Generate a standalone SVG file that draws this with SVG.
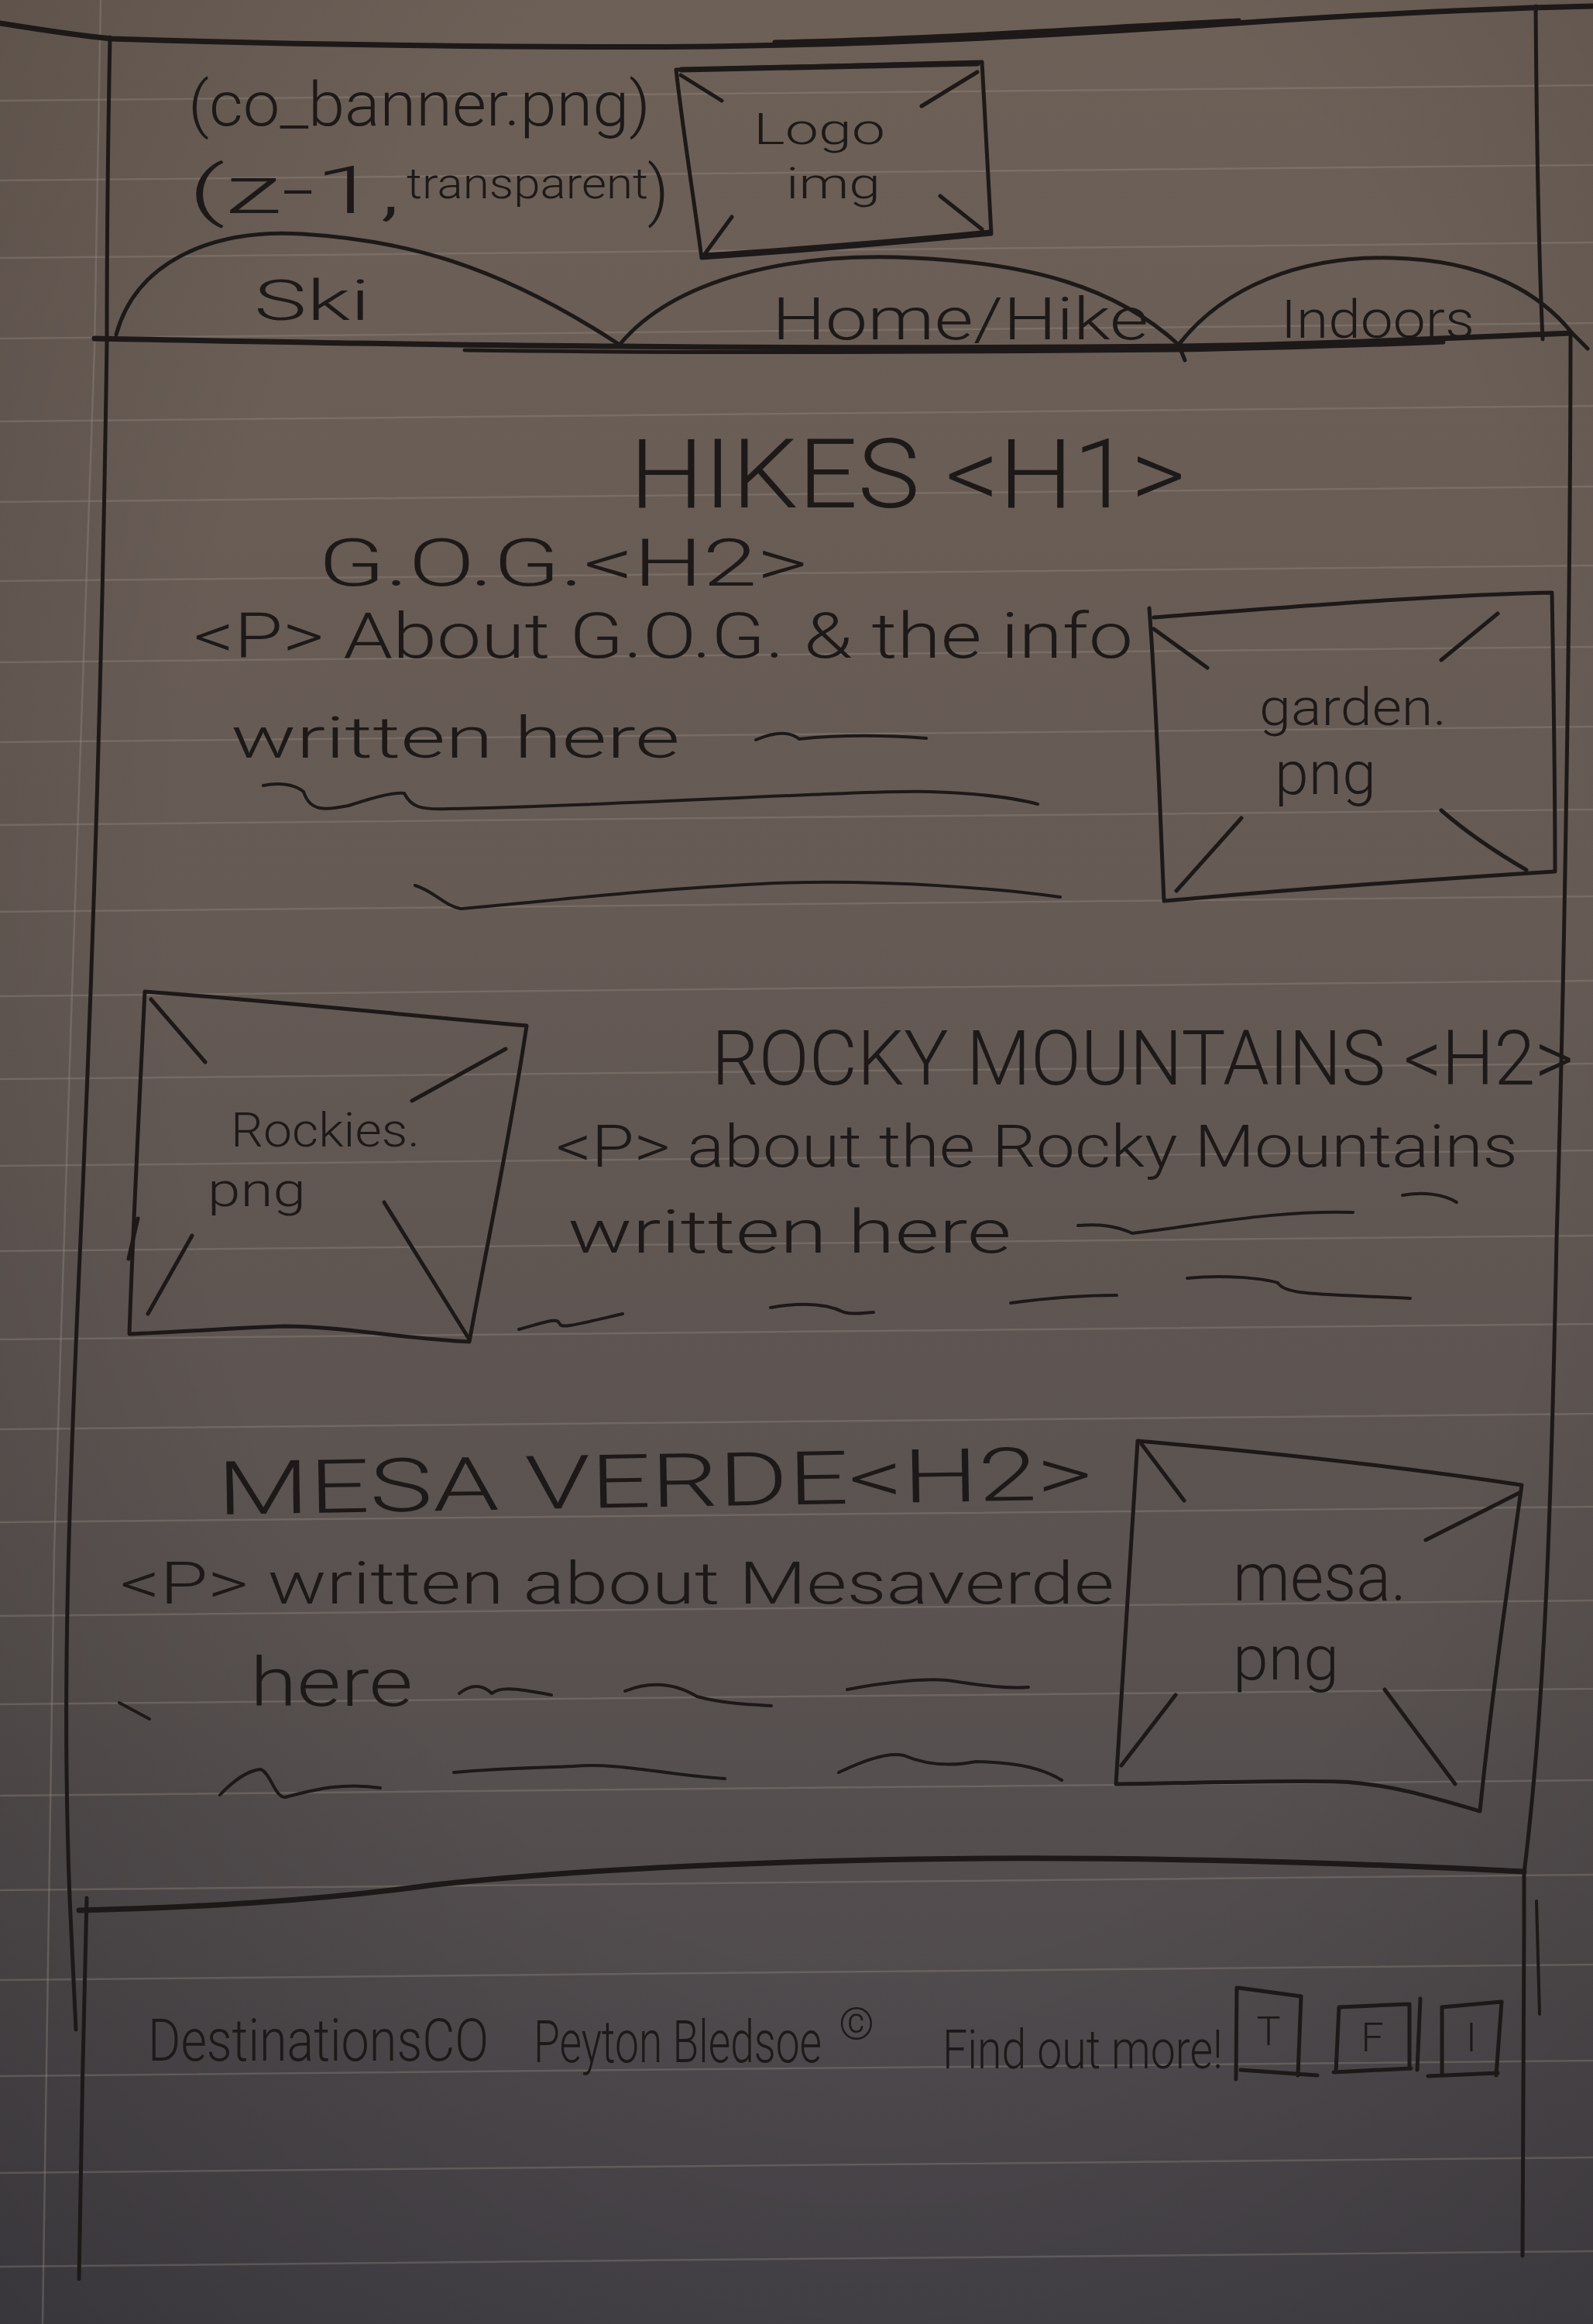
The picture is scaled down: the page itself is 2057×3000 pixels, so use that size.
<svg xmlns="http://www.w3.org/2000/svg" width="2057" height="3000" viewBox="0 0 2057 3000">
<defs>
  <linearGradient id="paperShade" x1="0" y1="0" x2="0" y2="1">
    <stop offset="0" stop-color="#6d6057"/>
    <stop offset="0.4" stop-color="#655a54"/>
    <stop offset="0.7" stop-color="#595250"/>
    <stop offset="1" stop-color="#47444a"/>
  </linearGradient>
  <radialGradient id="vignette" cx="0.55" cy="0.4" r="0.8">
    <stop offset="0.55" stop-color="#000" stop-opacity="0"/>
    <stop offset="1" stop-color="#000" stop-opacity="0.2"/>
  </radialGradient>
</defs>
<style>
  .rule{fill:none;stroke:#9a918a;stroke-opacity:.32;stroke-width:2.5}
  .margin{fill:none;stroke:#978e88;stroke-opacity:.35;stroke-width:2.5}
  .ink{fill:none;stroke:#1d1918;stroke-width:5;stroke-linecap:round;stroke-linejoin:round}
  .bold{stroke-width:7}
  .fine{stroke-width:4}
  .hand{fill:#1d1918;font-family:Roboto,"Open Sans",Lato,"Liberation Sans",sans-serif;font-weight:300}
</style>

<!-- lined notebook paper -->
<g id="paper">
  <rect x="0" y="0" width="2057" height="3000" fill="url(#paperShade)"/>
  <rect x="0" y="0" width="2057" height="3000" fill="url(#vignette)"/>
  <path class="rule" d="M0,130 L2057,110 M0,233 L2057,213 M0,333 L2057,313 M0,437 L2057,417 M0,544 L2057,524 M0,648 L2057,628 M0,750 L2057,730 M0,855 L2057,835 M0,958 L2057,938 M0,1065 L2057,1045 M0,1177 L2057,1157 M0,1286 L2057,1266 M0,1393 L2057,1373 M0,1505 L2057,1485 M0,1615 L2057,1595 M0,1729 L2057,1709 M0,1845 L2057,1825 M0,1965 L2057,1945 M0,2086 L2057,2066 M0,2200 L2057,2180 M0,2318 L2057,2298 M0,2440 L2057,2420 M0,2556 L2057,2536 M0,2680 L2057,2660 M0,2805 L2057,2785 M0,2926 L2057,2906"/>
  <path class="margin" d="M130,0 C127,150 124,300 122,450 C112,800 100,1050 94,1250 C85,1550 76,1800 70,2000 C63,2400 58,2700 55,3000"/>
</g>

<!-- page frame: header, content and footer outlines -->
<g id="frame">
  <path class="ink bold" d="M0,30 C50,38 100,46 144,50 C400,58 700,62 918,60 C1200,56 1450,40 1640,27 C1800,17 1950,10 2057,8"/>
  <path class="ink" d="M1000,54 C1200,50 1400,36 1600,26"/>
  <!-- left edge of header and content -->
  <path class="ink" d="M142,48 C140,150 138,300 138,440 C133,800 122,1200 104,1600 C88,1950 80,2200 90,2450 L98,2620"/>
  <!-- right edge of header -->
  <path class="ink" d="M1983,8 C1984,150 1987,330 1992,438"/>
  <!-- right edge of content -->
  <path class="ink" d="M2028,428 C2028,700 2022,1200 2010,1600 C2003,1950 1995,2200 1968,2418"/>
  <path class="ink bold" d="M122,437 C300,440 500,445 800,447 C1100,450 1300,449 1522,447 C1700,445 1850,437 2028,430"/>
  <path class="ink" d="M600,452 C900,456 1200,455 1522,452 C1650,450 1760,446 1864,442"/>
  <path class="ink bold" d="M102,2466 C250,2462 400,2455 561,2433 C700,2418 900,2405 1181,2400 C1400,2396 1700,2402 1968,2416"/>
  <path class="ink" d="M112,2450 C108,2600 104,2800 102,2942"/>
  <path class="ink" d="M1968,2414 C1968,2600 1968,2800 1966,2912"/>
  <path class="ink fine" d="M1984,2454 L1988,2600"/>
</g>

<!-- header -->
<g id="banner-note">
  <text class="hand" x="243" y="162" font-size="80" textLength="597" lengthAdjust="spacingAndGlyphs">(co_banner.png)</text>
  <text class="hand" x="243" y="275" font-size="85"><tspan textLength="275" lengthAdjust="spacingAndGlyphs">(z-1,</tspan> <tspan x="525" y="256" font-size="56" textLength="312" lengthAdjust="spacingAndGlyphs">transparent</tspan><tspan x="836" y="275">)</tspan></text>
</g>

<g id="logo">
  <path class="ink" d="M873,90 C1000,86 1150,84 1268,80 C1272,150 1276,230 1280,302 C1160,314 1020,325 906,333 C895,250 882,170 873,90 Z"/>
  <path class="ink bold" d="M880,90 C1000,87 1150,85 1262,82 M910,330 C1030,322 1160,312 1278,300"/>
  <path class="ink" d="M879,97 L932,130 M1262,93 L1190,137 M945,280 L910,328 M1214,253 L1268,296"/>
  <text class="hand" x="973" y="186" font-size="56" textLength="170" lengthAdjust="spacingAndGlyphs">Logo</text>
  <text class="hand" x="1015" y="256" font-size="56" textLength="122" lengthAdjust="spacingAndGlyphs">img</text>
</g>

<g id="tab-ski">
  <path class="ink" d="M150,432 C175,340 270,295 390,302 C520,310 640,340 800,445"/>
  <text class="hand" x="328" y="413" font-size="72" textLength="150" lengthAdjust="spacingAndGlyphs">Ski</text>
</g>
<g id="tab-home-hike">
  <path class="ink" d="M800,445 C870,360 1020,325 1180,333 C1330,340 1440,370 1522,445 L1530,465"/>
  <text class="hand" x="997" y="438" font-size="76" textLength="486" lengthAdjust="spacingAndGlyphs">Home/Hike</text>
</g>
<g id="tab-indoors">
  <path class="ink" d="M1522,445 C1580,370 1680,330 1798,333 C1920,336 1990,380 2030,430 L2050,450"/>
  <text class="hand" x="1654" y="436" font-size="68" textLength="250" lengthAdjust="spacingAndGlyphs">Indoors</text>
</g>

<!-- page heading -->
<g id="heading">
  <text class="hand" x="813" y="655" font-size="125" textLength="718" lengthAdjust="spacingAndGlyphs">HIKES &lt;H1&gt;</text>
</g>

<!-- G.O.G. section -->
<g id="section-gog">
  <text class="hand" x="411" y="756" font-size="86" textLength="632" lengthAdjust="spacingAndGlyphs">G.O.G.&lt;H2&gt;</text>
  <text class="hand" x="250" y="849" font-size="82" textLength="1213" lengthAdjust="spacingAndGlyphs">&lt;P&gt; About G.O.G. &amp; the info</text>
  <text class="hand" x="298" y="978" font-size="74" textLength="580" lengthAdjust="spacingAndGlyphs">written here</text>
  <path class="ink fine" d="M976,955 C1000,945 1020,944 1032,954 C1070,950 1130,948 1196,953"/>
  <path class="ink fine" d="M340,1014 C360,1010 380,1012 392,1022 C400,1048 420,1046 450,1040 C480,1030 510,1022 522,1024 C530,1040 540,1046 580,1044 C800,1040 1100,1020 1200,1022 C1260,1024 1310,1030 1340,1038"/>
  <path class="ink fine" d="M536,1143 C560,1150 575,1170 595,1173 C700,1165 800,1150 1000,1140 C1150,1135 1300,1148 1369,1158"/>
</g>
<g id="image-garden">
  <path class="ink" d="M1490,797 C1650,785 1850,768 2004,765 C2006,880 2008,1000 2008,1125 C1850,1135 1650,1150 1503,1163 C1498,1050 1493,900 1484,785"/>
  <path class="ink" d="M1490,812 L1559,862 M1934,792 L1861,852 M1603,1056 L1519,1150 M1861,1046 C1900,1080 1940,1105 1971,1123"/>
  <text class="hand" x="1626" y="936" font-size="66" textLength="242" lengthAdjust="spacingAndGlyphs">garden.</text>
  <text class="hand" x="1646" y="1025" font-size="78" textLength="131" lengthAdjust="spacingAndGlyphs">png</text>
</g>

<!-- Rocky Mountains section -->
<g id="image-rockies">
  <path class="ink" d="M187,1280 C350,1292 520,1310 680,1324 C660,1460 630,1600 606,1732 C520,1728 440,1712 368,1712 C300,1714 230,1720 167,1722 C172,1580 180,1420 187,1280 Z"/>
  <path class="ink" d="M178,1573 L166,1625"/>
  <path class="ink" d="M195,1290 L265,1371 M653,1354 L532,1421 M248,1595 L191,1696 M496,1552 L606,1729"/>
  <text class="hand" x="298" y="1480" font-size="62" textLength="244" lengthAdjust="spacingAndGlyphs">Rockies.</text>
  <text class="hand" x="268" y="1557" font-size="62" textLength="127" lengthAdjust="spacingAndGlyphs">png</text>
</g>
<g id="section-rockies">
  <text class="hand" x="919" y="1400" font-size="98" textLength="1113" lengthAdjust="spacingAndGlyphs">ROCKY MOUNTAINS &lt;H2&gt;</text>
  <text class="hand" x="718" y="1506" font-size="76" textLength="1242" lengthAdjust="spacingAndGlyphs">&lt;P&gt; about the Rocky Mountains</text>
  <text class="hand" x="733" y="1617" font-size="78" textLength="573" lengthAdjust="spacingAndGlyphs">written here</text>
  <path class="ink fine" d="M1811,1543 C1840,1538 1865,1542 1881,1552"/>
  <path class="ink fine" d="M1392,1582 C1420,1580 1440,1582 1462,1592 C1560,1580 1650,1562 1747,1565"/>
  <path class="ink fine" d="M670,1716 C700,1708 720,1700 722,1708 C725,1715 735,1712 804,1696"/>
  <path class="ink fine" d="M995,1688 C1040,1680 1070,1684 1090,1694 C1105,1698 1118,1694 1128,1694"/>
  <path class="ink fine" d="M1305,1682 C1350,1676 1400,1672 1442,1672"/>
  <path class="ink fine" d="M1533,1650 C1580,1645 1630,1650 1650,1656 C1660,1672 1700,1670 1821,1676"/>
</g>

<!-- Mesa Verde section -->
<g id="section-mesa">
  <text class="hand" x="281" y="1955" font-size="96" textLength="1130" lengthAdjust="spacingAndGlyphs" transform="rotate(-1 281 1955)">MESA VERDE&lt;H2&gt;</text>
  <text class="hand" x="155" y="2070" font-size="76" textLength="1284" lengthAdjust="spacingAndGlyphs">&lt;P&gt; written about Mesaverde</text>
  <text class="hand" x="323" y="2202" font-size="88" textLength="210" lengthAdjust="spacingAndGlyphs">here</text>
  <path class="ink fine" d="M154,2198 L193,2219"/>
  <path class="ink fine" d="M593,2186 C610,2172 625,2176 635,2186 C645,2178 660,2178 712,2188"/>
  <path class="ink fine" d="M807,2183 C840,2170 870,2172 900,2190 C930,2198 960,2200 996,2202"/>
  <path class="ink fine" d="M1094,2181 C1140,2172 1200,2165 1230,2170 C1270,2176 1300,2180 1328,2178"/>
  <path class="ink fine" d="M284,2317 C300,2300 320,2285 337,2284 C350,2290 355,2320 368,2320 C400,2312 440,2300 491,2308"/>
  <path class="ink fine" d="M586,2288 C650,2282 700,2282 740,2280 C800,2275 850,2290 936,2296"/>
  <path class="ink fine" d="M1083,2288 C1120,2270 1150,2262 1167,2266 C1200,2280 1230,2280 1260,2274 C1320,2275 1350,2285 1371,2298"/>
</g>
<g id="image-mesa">
  <path class="ink" d="M1469,1860 C1640,1875 1820,1895 1965,1917 C1945,2060 1925,2200 1911,2338 C1850,2320 1790,2302 1729,2300 C1640,2298 1540,2302 1441,2303 C1450,2150 1460,2000 1469,1860 Z"/>
  <path class="ink" d="M1474,1864 L1529,1937 M1962,1927 L1841,1988 M1518,2188 L1448,2279 M1788,2181 L1879,2303"/>
  <text class="hand" x="1592" y="2066" font-size="88" textLength="224" lengthAdjust="spacingAndGlyphs">mesa.</text>
  <text class="hand" x="1592" y="2168" font-size="80" textLength="137" lengthAdjust="spacingAndGlyphs">png</text>
</g>

<!-- footer: narrow, tall handwriting is a smaller font stretched vertically -->
<g id="footer">
  <text class="hand" font-size="54" textLength="440" lengthAdjust="spacingAndGlyphs" transform="translate(191 2660) scale(1 1.4)">DestinationsCO</text>
  <text class="hand" font-size="54" textLength="372" lengthAdjust="spacingAndGlyphs" transform="translate(689 2662) scale(1 1.4)">Peyton Bledsoe</text>
  <text class="hand" x="1106" y="2632" font-size="58" text-anchor="middle">©</text>
  <text class="hand" font-size="54" textLength="362" lengthAdjust="spacingAndGlyphs" transform="translate(1217 2670) scale(1 1.3)">Find out more!</text>
</g>
<g id="social-t">
  <path class="ink" d="M1599,2566 L1680,2577 L1676,2679 M1597,2566 L1596,2684 M1602,2672 L1701,2679"/>
  <text class="hand" x="1638" y="2640" font-size="52" text-anchor="middle">T</text>
</g>
<g id="social-f">
  <path class="ink" d="M1729,2591 L1820,2587 L1820,2668 M1729,2591 L1725,2675 M1722,2675 L1822,2670 M1834,2580 L1830,2672"/>
  <text class="hand" x="1772" y="2648" font-size="52" text-anchor="middle">F</text>
</g>
<g id="social-i">
  <path class="ink" d="M1862,2591 L1939,2584 L1932,2679 M1862,2591 L1862,2679 M1844,2680 L1934,2676"/>
  <text class="hand" x="1900" y="2648" font-size="52" text-anchor="middle">I</text>
</g>
</svg>
